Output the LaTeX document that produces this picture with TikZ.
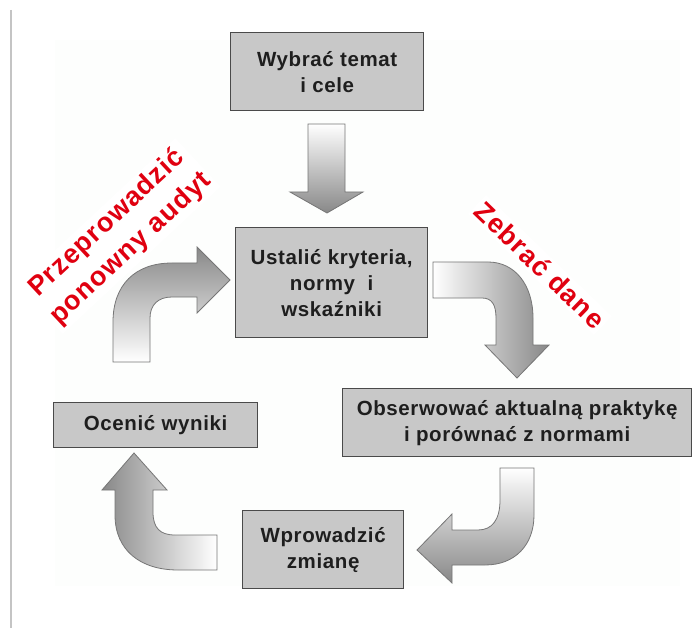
\documentclass[tikz,border=0pt]{standalone}
\usepackage{fontspec}
\setmainfont{Liberation Sans}
\definecolor{boxfill}{HTML}{C8C8C8}
\definecolor{boxline}{HTML}{4A4A4A}
\definecolor{textc}{HTML}{1E1E1E}
\definecolor{arrowline}{HTML}{767676}
\definecolor{arrowdark}{HTML}{888888}
\definecolor{redc}{HTML}{E00010}
\definecolor{bgc}{HTML}{FDFEFD}
\definecolor{sidel}{HTML}{C4C4C4}
\begin{document}
\begin{tikzpicture}[x=1pt,y=-1pt,
  box/.style={draw=boxline, fill=boxfill, line width=1.3pt, inner sep=0pt,
    anchor=north west, font=\fontsize{20.5}{26}\selectfont\bfseries\addfontfeatures{LetterSpace=3},
    text=textc, align=center},
  barrow/.style={draw=arrowline, line width=0.8pt},
  redlab/.style={text=redc, fill=white, inner sep=3pt, align=center,
    font=\fontsize{27}{35}\selectfont\bfseries\addfontfeatures{LetterSpace=4}}]
\useasboundingbox (0,0) rectangle (693,628);
\fill[white] (0,0) rectangle (693,628);
\fill[bgc] (55,40) rectangle (680,586);
\draw[sidel, line width=2pt] (11,10) -- (11,628);

% boxes
\node[box, minimum width=193pt, minimum height=78pt] (b1) at (230,32) {Wybrać temat\\i cele};
\node[box, minimum width=192pt, minimum height=110pt] (b2) at (235,227) {Ustalić kryteria,\\normy\ \ i\\wskaźniki};
\node[box, minimum width=349pt, minimum height=68pt] (b3) at (342,388) {Obserwować aktualną praktykę\\i porównać z normami};
\node[box, minimum width=204pt, minimum height=45pt] (b4) at (53,402) {Ocenić wyniki};
\node[box, minimum width=161pt, minimum height=78pt] (b5) at (242,510) {Wprowadzić\\zmianę};

% straight arrow b1 -> b2
\path[barrow, top color=white, bottom color=arrowdark]
  (308,124) -- (345,124) -- (345,192) -- (363,192) -- (327,213) -- (290,192) -- (308,192) -- cycle;

% b2 -> b3
\path[barrow, left color=white, right color=arrowdark]
  (433,262) -- (488,262) .. controls (515,262) and (533,285) .. (533,318)
  -- (533,345) -- (549,345) -- (517,378) -- (485,345) -- (496,345) -- (496,318)
  .. controls (496,305) and (492,298) .. (482,298) -- (433,298) -- cycle;

% b3 -> b5
\path[barrow, top color=white, bottom color=arrowdark]
  (500,468) -- (534,468) -- (534,515) .. controls (534,545) and (515,565) .. (485,565)
  -- (452,565) -- (452,583) -- (417,550) -- (452,514) -- (452,530) -- (478,530)
  .. controls (492,530) and (500,520) .. (500,500) -- cycle;

% b5 -> b4
\path[barrow, right color=white, left color=arrowdark]
  (217,535) -- (217,570) -- (178,570) .. controls (140,570) and (115,550) .. (115,515)
  -- (115,490) -- (102,490) -- (134,453) -- (167,490) -- (153,490) -- (153,512)
  .. controls (153,528) and (160,535) .. (175,535) -- cycle;

% b4 -> b2
\path[barrow, bottom color=white, top color=arrowdark]
  (113,362) -- (150,362) -- (150,318) .. controls (150,305) and (158,297) .. (172,297)
  -- (197,297) -- (197,313) -- (230,280) -- (197,247) -- (197,263) -- (172,263)
  .. controls (135,263) and (113,285) .. (113,322) -- cycle;

% red labels
\node[redlab, rotate=43] (l1) at (119,236) {Przeprowadzić\\ponowny audyt};
\node[redlab, rotate=-44] (l2) at (540,265) {Zebrać dane};
\end{tikzpicture}
\end{document}
